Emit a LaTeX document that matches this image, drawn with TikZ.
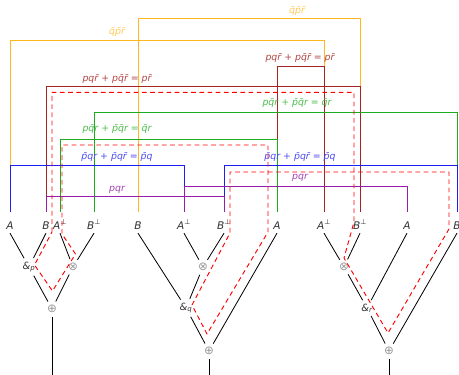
\documentclass[tikz,border=0pt]{standalone}
\usepackage{fontspec}
\setmainfont{DejaVu Sans}
\definecolor{lkorange}{RGB}{255,185,30}
\definecolor{lkred}{RGB}{165,35,35}
\definecolor{lkgreen}{RGB}{30,170,30}
\definecolor{lkblue}{RGB}{30,30,240}
\definecolor{lkpurple}{RGB}{150,30,170}
\newcommand{\ortho}[1]{\textit{#1}\textsuperscript{⊥}}

\begin{document}
\begin{tikzpicture}[
    x=0.03cm, y=-0.03cm,
    leaf/.style={anchor=base, inner xsep=2pt, inner ysep=1pt, text height=13.7pt, text depth=2.1pt, font=\fontsize{9}{10}\selectfont, text=black!80},
    op/.style={circle, inner sep=1.2pt, font=\fontsize{10}{11}\selectfont, text=black!40},
    wth/.style={circle, inner sep=1pt, font=\fontsize{8.5}{10}\selectfont\itshape, text=black!80},
    e/.style={line width=0.7pt},
    lk/.style={line width=0.8pt},
    lbl/.style={font=\fontsize{8}{10}\selectfont\itshape, inner sep=1pt},
    sw/.style={red, line width=0.8pt, dash pattern=on 4pt off 3pt, line join=round},
]
\useasboundingbox (0,0) rectangle (459,375);

% Leaves
\node[leaf] (a1) at (10,229.3) {\textit{A}};
\node[leaf] (b1) at (46,229.3) {\textit{B}};
\node[leaf] (an1) at (60,229.3) {\ortho{A}};
\node[leaf] (bn1) at (94,229.3) {\ortho{B}};
\node[leaf] (b2) at (138,229.3) {\textit{B}};
\node[leaf] (an2) at (184,229.3) {\ortho{A}};
\node[leaf] (bn2) at (224,229.3) {\ortho{B}};
\node[leaf] (a2) at (277,229.3) {\textit{A}};
\node[leaf] (an3) at (324,229.3) {\ortho{A}};
\node[leaf] (bn3) at (360,229.3) {\ortho{B}};
\node[leaf] (a3) at (407,229.3) {\textit{A}};
\node[leaf] (b3) at (457,229.3) {\textit{B}};

% Connectives
\node[wth] (andp) at (29,267) {\&\textsubscript{p}};
\node[op] (tens1) at (73,267) {⊗};
\node[op] (plus1) at (52,309) {⊕};
\node[op] (tens2) at (203,267) {⊗};
\node[wth] (andq) at (186,308) {\&\textsubscript{q}};
\node[op] (plus2) at (209,351) {⊕};
\node[op] (tens3) at (344,267) {⊗};
\node[wth] (andr) at (367,308) {\&\textsubscript{r}};
\node[op] (plus3) at (389,351) {⊕};
\coordinate (o1) at (52,376);
\coordinate (o2) at (209,376);
\coordinate (o3) at (389,376);

% Trees
\draw[e] (a1.south) -- (andp);
\draw[e] (b1.south) -- (andp);
\draw[e] (an1.south) -- (tens1);
\draw[e] (bn1.south) -- (tens1);
\draw[e] (andp) -- (plus1);
\draw[e] (tens1) -- (plus1);
\draw[e] (plus1) -- (o1);

\draw[e] (an2.south) -- (tens2);
\draw[e] (bn2.south) -- (tens2);
\draw[e] (b2.south) -- (andq);
\draw[e] (tens2) -- (andq);
\draw[e] (andq) -- (plus2);
\draw[e] (a2.south) -- (plus2);
\draw[e] (plus2) -- (o2);

\draw[e] (an3.south) -- (tens3);
\draw[e] (bn3.south) -- (tens3);
\draw[e] (tens3) -- (andr);
\draw[e] (a3.south) -- (andr);
\draw[e] (andr) -- (plus3);
\draw[e] (b3.south) -- (plus3);
\draw[e] (plus3) -- (o3);

% Links
\draw[lk, lkorange] (a1.north) -- ++(0,-171.3) -| (an3.north);
\draw[lk, lkorange] (b2.north) -- ++(0,-193) -| (bn3.north);
\draw[lk, lkred] (b1.north) -- ++(0,-125) -| (bn3.north);
\draw[lk, lkred] (a2.north) -- ++(0,-145.3) -| (an3.north);
\draw[lk, lkgreen] (bn1.north) -- ++(0,-99) -| (b3.north);
\draw[lk, lkgreen] (an1.north) -- ++(0,-72.7) -| (a2.north);
\draw[lk, lkblue] (a1.north) -- ++(0,-46.3) -| (an2.north);
\draw[lk, lkblue] (bn2.north) -- ++(0,-46.3) -| (b3.north);
\draw[lk, lkpurple] (b1.north) -- ++(0,-15.3) -| (bn2.north);
\draw[lk, lkpurple] (an2.north) -- ++(0,-25.3) -| (a3.north);

% Link labels
\node[lbl, text=lkorange!75!white] (qpr1) at (117,32) {\=q\=p\=r};
\node[lbl, text=lkorange!75!white] (qpr2) at (297,11) {\=q\=p\=r};
\node[lbl, text=lkred!85!white] (pr1) at (117,79) {pq\=r + p\=q\=r = p\=r};
\node[lbl, text=lkred!85!white] (pr2) at (300,58) {pq\=r + p\=q\=r = p\=r};
\node[lbl, text=lkgreen!80!white] (qr1) at (297,103) {p\=qr + \=p\=qr = \=qr};
\node[lbl, text=lkgreen!80!white] (qr2) at (117,129) {p\=qr + \=p\=qr = \=qr};
\node[lbl, text=lkblue!80!white] (pq1) at (117,157) {\=pqr + \=pq\=r = \=pq};
\node[lbl, text=lkblue!80!white] (pq2) at (300,157) {\=pqr + \=pq\=r = \=pq};
\node[lbl, text=lkpurple!85!white] (pqr1) at (117,190) {pqr};
\node[lbl, text=lkpurple!85!white] (pqr2) at (300,178) {pqr};

% Switching cycle
\draw[sw] (52,232) -- (52,92.3) -- (354,92.3) -- (354,222) -- (344,258) -- (388,333)
  -- (449,229) -- (449,172) -- (230,172) -- (230,233) -- (192,305) -- (207,334)
  -- (268,232) -- (268,145) -- (62,145) -- (62,234) -- (75.5,254) -- (52.5,291)
  -- (34.5,265) -- cycle;
\end{tikzpicture}
\end{document}
